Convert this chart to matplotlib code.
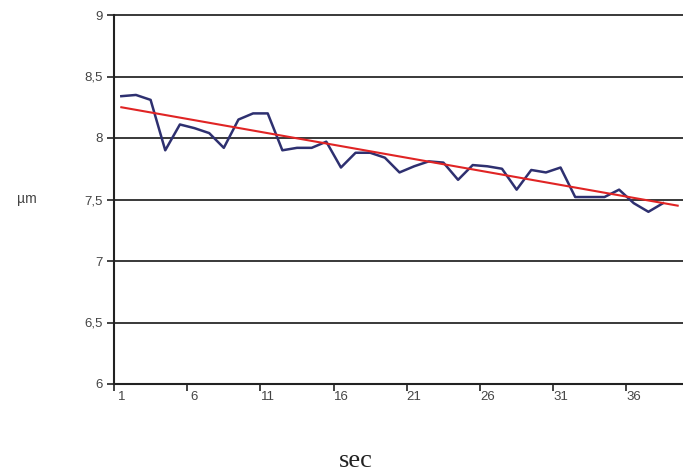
import numpy as np
import matplotlib
matplotlib.use('Agg')
from matplotlib import pyplot as plt

sec = list(range(1, 39))
thickness = [8.34, 8.35, 8.31, 7.90, 8.11, 8.08, 8.04, 7.92, 8.15, 8.20,
             8.20, 7.90, 7.92, 7.92, 7.97, 7.76, 7.88, 7.88, 7.84, 7.72,
             7.77, 7.81, 7.80, 7.66, 7.78, 7.77, 7.75, 7.58, 7.74, 7.72,
             7.76, 7.52, 7.52, 7.52, 7.58, 7.47, 7.40, 7.47]

# linear trend line end points
trend_x = [1, 39]
trend_y = [8.25, 7.45]

yticks = [6, 6.5, 7, 7.5, 8, 8.5, 9]
ytick_labels = ['6', '6,5', '7', '7,5', '8', '8,5', '9']
xtick_labels = ['1', '6', '11', '16', '21', '26', '31', '36']

fig = plt.figure(figsize=(6.83, 4.72), dpi=100)
ax = fig.add_axes([114 / 683, 88 / 472, 571 / 683, 369 / 472])

ax.plot(sec, thickness, color='#2e3070', lw=1.8, zorder=3)
ax.plot(trend_x, trend_y, color='#e02424', lw=1.5, zorder=4)

ax.set_xlim(0.5, 39.5)
ax.set_ylim(6, 9)

# category style axis: tick marks between categories, labels on categories
ax.set_xticks([int(t) - 0.5 for t in xtick_labels])
ax.set_xticklabels([])
for t in xtick_labels:
    ax.text(int(t), 5.94, t, ha='center', va='top', fontsize=9.5,
            color='#444444', family='Liberation Sans')

ax.set_yticks(yticks)
ax.set_yticklabels(ytick_labels, fontsize=9.5, color='#444444',
                   family='Liberation Sans')
ax.tick_params(axis='both', direction='out', length=5, width=1.2, color='#222222')
ax.tick_params(axis='y', pad=3)

for t in yticks:
    ax.axhline(t, color='#2a2a2a', lw=1.3, zorder=1, clip_on=False)

for s in ['top', 'right']:
    ax.spines[s].set_visible(False)
for s in ['left', 'bottom']:
    ax.spines[s].set_linewidth(1.5)
    ax.spines[s].set_color('#222222')

fig.text(27 / 683, 1 - 199 / 472, 'µm', ha='center', va='center', fontsize=10,
         color='#444444', family='Liberation Sans')
fig.text(356 / 683, 1 - 461 / 472, 'sec', ha='center', va='center', fontsize=19,
         color='#222222', family='Liberation Serif')

fig.savefig('out.png', dpi=100)
